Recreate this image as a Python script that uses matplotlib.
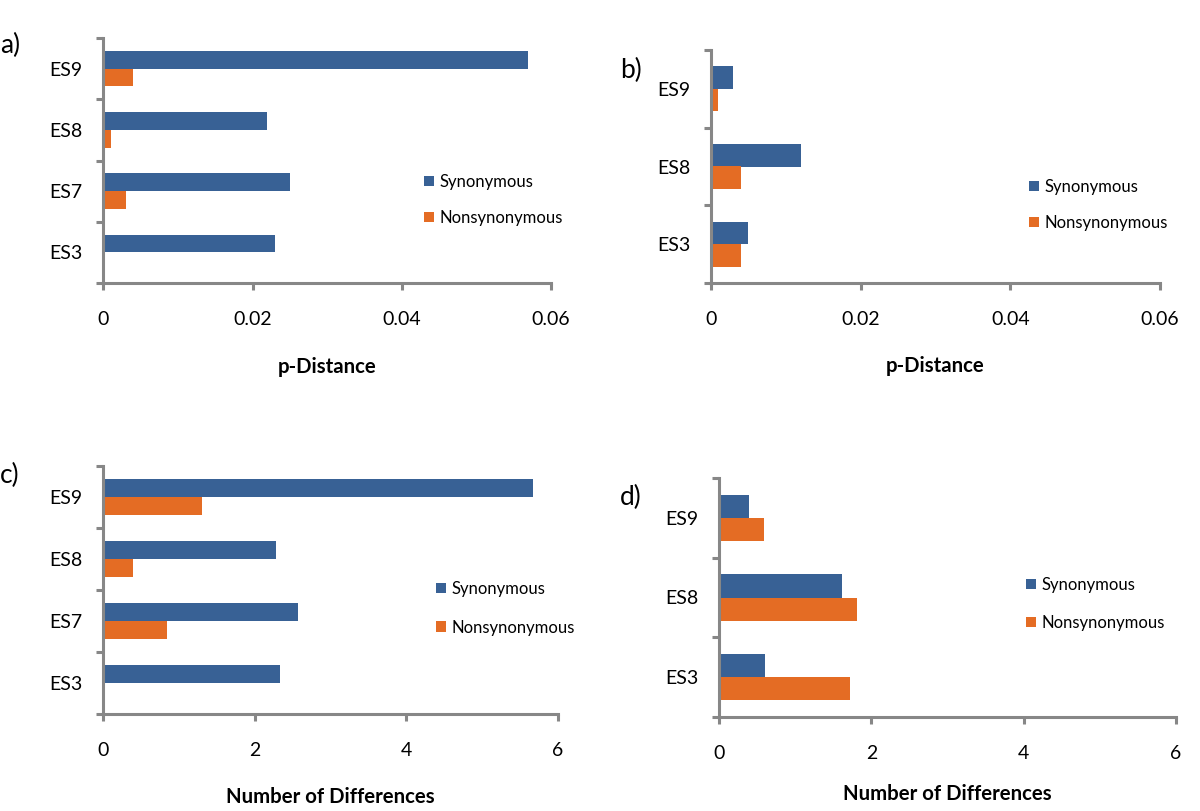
import matplotlib
matplotlib.use("Agg")
import matplotlib.pyplot as plt
from matplotlib.ticker import FixedLocator, NullFormatter
import numpy as np

plt.rcParams['font.family'] = ['Lato', 'DejaVu Sans']

# ---- data ----
cats_a = ['ES3', 'ES7', 'ES8', 'ES9']
a_syn = [0.023, 0.025, 0.022, 0.057]
a_non = [0.0, 0.003, 0.001, 0.004]

cats_b = ['ES3', 'ES8', 'ES9']
b_syn = [0.005, 0.012, 0.003]
b_non = [0.004, 0.004, 0.001]

cats_c = ['ES3', 'ES7', 'ES8', 'ES9']
c_syn = [2.34, 2.57, 2.28, 5.67]
c_non = [0.0, 0.84, 0.39, 1.30]

cats_d = ['ES3', 'ES8', 'ES9']
d_syn = [0.61, 1.61, 0.39]
d_non = [1.72, 1.81, 0.59]

xt_p = [0, 0.02, 0.04, 0.06]
xt_p_lbl = ['0', '0.02', '0.04', '0.06']
xt_n = [0, 2, 4, 6]
xt_n_lbl = ['0', '2', '4', '6']

series_names = ['Synonymous', 'Nonsynonymous']
BLUE = '#386195'
ORANGE = '#E46C24'
GRAY = '#878787'

W, H = 1200, 811
fig = plt.figure(figsize=(W / 100, H / 100), dpi=100)


def px_axes(l, r, t, b):
    return fig.add_axes([l / W, 1 - b / H, (r - l) / W, (b - t) / H])


def panel(box, cats, syn, non, xticks, xlbls, xmax, xlabel, label_y_px,
          leg_pos, leg_sp, letter, letter_pos):
    l, r, t, b = box
    ax = px_axes(l, r, t, b)
    n = len(cats)
    y = np.arange(n)
    h = 0.29
    ax.barh(y + h / 2, syn, height=h, color=BLUE, label=series_names[0])
    ax.barh(y - h / 2, non, height=h, color=ORANGE, label=series_names[1])
    ax.set_ylim(-0.5, n - 0.5)
    ax.set_xlim(0, xmax)
    for s in ['top', 'right']:
        ax.spines[s].set_visible(False)
    for s in ['left', 'bottom']:
        ax.spines[s].set_color(GRAY)
        ax.spines[s].set_linewidth(2.2)
    ax.set_yticks(y)
    ax.set_yticklabels(cats, fontsize=14)
    ax.yaxis.set_minor_locator(FixedLocator(np.arange(n + 1) - 0.5))
    ax.yaxis.set_minor_formatter(NullFormatter())
    ax.tick_params(axis='y', which='major', length=0, pad=15)
    ax.tick_params(axis='y', which='minor', length=5, width=2.2, color=GRAY, direction='out')
    ax.set_xticks(xticks)
    ax.set_xticklabels(xlbls, fontsize=14)
    ax.tick_params(axis='x', which='major', length=5, width=2.2, color=GRAY,
                   direction='out', pad=15)
    ax.set_xlabel(xlabel, fontsize=14.7, fontweight='bold')
    ax.xaxis.label.set_va('center')
    ax.xaxis.set_label_coords(0.5, -(label_y_px - b) / (b - t))
    lx, ly = leg_pos
    ax.legend(loc='upper left', bbox_to_anchor=(lx / W, 1 - ly / H),
              bbox_transform=fig.transFigure, frameon=False, fontsize=12,
              handlelength=0.6, handleheight=0.6, handletextpad=0.35,
              labelspacing=leg_sp, borderpad=0, borderaxespad=0)
    fig.text(letter_pos[0] / W, 1 - letter_pos[1] / H, letter, fontsize=19,
             ha='left', va='center')
    return ax


panel((103.5, 550.7, 38, 283), cats_a, a_syn, a_non, xt_p, xt_p_lbl, 0.06,
      'p-Distance', 367, (424, 174), 1.2, 'a)', (0, 45))
panel((711, 1160, 50, 283), cats_b, b_syn, b_non, xt_p, xt_p_lbl, 0.06,
      'p-Distance', 366, (1029, 179), 1.2, 'b)', (620, 70))
panel((103, 558, 466, 714), cats_c, c_syn, c_non, xt_n, xt_n_lbl, 6,
      'Number of Differences', 797, (436, 581), 1.35, 'c)', (0, 475))
panel((719, 1176, 478, 717), cats_d, d_syn, d_non, xt_n, xt_n_lbl, 6,
      'Number of Differences', 794, (1026, 577), 1.3, 'd)', (620, 497))

fig.savefig('out.png', dpi=100)
